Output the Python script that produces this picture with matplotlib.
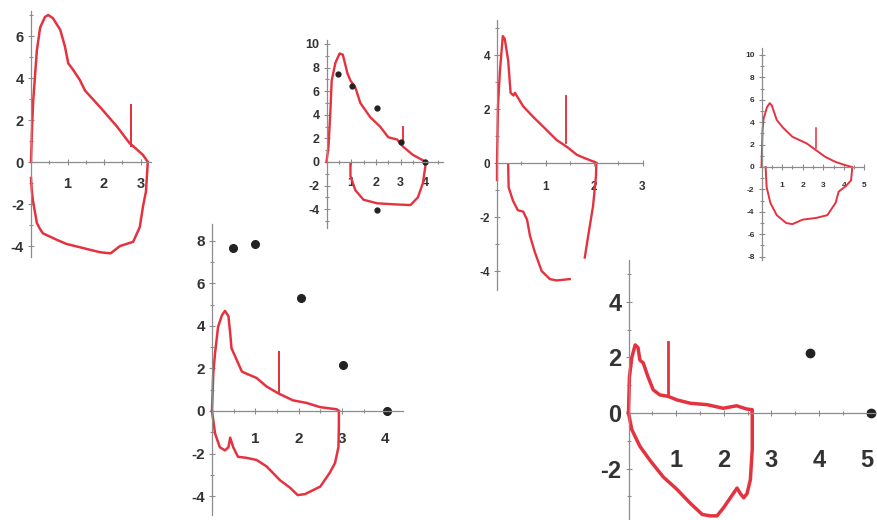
import matplotlib.pyplot as plt
from matplotlib.ticker import MultipleLocator

plt.rcParams['axes.unicode_minus'] = False

# Flow-volume loops: volume (L) on x, flow (L/s) on y.
# Positive flow = expiration, negative flow = inspiration.

# Loop 1
p1_exp_vol = [0, 0.03, 0.06, 0.16, 0.25, 0.38, 0.47, 0.6, 0.8, 0.93, 1.02, 1.15, 1.34, 1.48, 1.9, 2.35, 2.7, 2.9, 3.07, 3.2]
p1_exp_flow = [0, 1.7, 2.9, 5.3, 6.4, 6.9, 7.0, 6.85, 6.3, 5.5, 4.7, 4.4, 3.9, 3.4, 2.6, 1.7, 0.9, 0.6, 0.33, 0]
p1_insp_vol = [0, 0.02, 0.05, 0.16, 0.25, 0.33, 0.7, 0.97, 1.43, 1.9, 2.18, 2.44, 2.8, 2.98, 3.07, 3.15, 3.2]
p1_insp_flow = [-0.76, -1.33, -1.8, -2.9, -3.2, -3.4, -3.7, -3.9, -4.1, -4.3, -4.35, -4.0, -3.8, -3.1, -2.1, -1.4, 0]
p1_marker_vol = 2.74
p1_marker_flow = [0.75, 2.7]

# Loop 2
p2_exp_vol = [0, 0.08, 0.16, 0.21, 0.36, 0.53, 0.66, 0.85, 0.97, 1.17, 1.37, 1.77, 2.17, 2.5, 2.86, 3.1, 3.5, 3.9, 4.0]
p2_exp_flow = [0, 1.3, 4.4, 6.9, 8.4, 9.2, 9.1, 7.5, 6.9, 6.3, 5.0, 3.8, 3.0, 2.1, 1.9, 1.3, 0.6, 0.15, 0]
p2_insp_vol = [0.97, 0.97, 1.17, 1.5, 2.05, 2.85, 3.4, 3.7, 3.9, 4.0, 4.0]
p2_insp_flow = [-0.1, -1.2, -2.4, -3.2, -3.5, -3.6, -3.65, -3.0, -1.8, -0.4, 0]
p2_marker_vol = 3.1
p2_marker_flow = [1.7, 3.0]
p2_pred_vol = [0.48, 1.05, 2.05, 3.0, 4.0, 2.05]
p2_pred_flow = [7.5, 6.4, 4.6, 1.7, 0, -4.1]

# Loop 3
p3_exp_vol = [0, 0, 0.02, 0.06, 0.12, 0.16, 0.23, 0.28, 0.34, 0.37, 0.54, 0.75, 0.95, 1.23, 1.44, 1.65, 1.85, 2.02, 2.05]
p3_exp_flow = [-0.63, 0, 2.1, 3.4, 4.7, 4.6, 3.8, 2.6, 2.5, 2.6, 2.1, 1.7, 1.35, 0.85, 0.6, 0.3, 0.15, 0.03, 0]
p3_insp_vol = [0.23, 0.24, 0.33, 0.43, 0.54, 0.62, 0.68, 0.78, 0.92, 1.09, 1.23, 1.5]
p3_insp_flow = [-0.07, -0.9, -1.4, -1.75, -1.8, -2.1, -2.7, -3.3, -4.0, -4.3, -4.35, -4.3]
p3_insp_end_vol = [1.81, 1.88, 1.98, 2.04, 2.05]
p3_insp_end_flow = [-3.5, -2.7, -1.6, -0.5, 0]
p3_marker_vol = 1.42
p3_marker_flow = [0.75, 2.5]

# Loop 4
p4_exp_vol = [0, 0.05, 0.1, 0.27, 0.4, 0.5, 0.74, 1.05, 1.5, 2.2, 2.65, 3.1, 3.6, 4.1, 4.4]
p4_exp_flow = [0, 3.3, 4.3, 5.35, 5.7, 5.5, 4.2, 3.5, 2.7, 2.1, 1.5, 0.9, 0.45, 0.15, 0]
p4_insp_vol = [0.2, 0.25, 0.43, 0.74, 1.2, 1.5, 2.0, 2.65, 3.2, 3.6, 3.75, 4.1, 4.35, 4.4, 4.4]
p4_insp_flow = [0, -1.8, -3.2, -4.3, -5.0, -5.1, -4.7, -4.55, -4.3, -3.2, -2.2, -1.7, -1.2, -0.3, 0]
p4_marker_vol = 2.67
p4_marker_flow = [1.7, 3.5]

# Loop 5
p5_exp_vol = [0, 0.03, 0.07, 0.14, 0.23, 0.3, 0.38, 0.42, 0.45, 0.57, 0.69, 0.8, 1.03, 1.26, 1.53, 1.87, 2.18, 2.5, 2.88, 2.93]
p5_exp_flow = [0, 1.8, 2.7, 3.95, 4.5, 4.7, 4.45, 3.65, 2.95, 2.4, 1.85, 1.75, 1.55, 1.15, 0.83, 0.5, 0.38, 0.18, 0.08, 0]
p5_insp_vol = [0, 0.07, 0.18, 0.3, 0.38, 0.42, 0.49, 0.6, 0.8, 1.03, 1.26, 1.57, 1.8, 1.98, 2.15, 2.5, 2.72, 2.84, 2.92, 2.93, 2.93]
p5_insp_flow = [0, -1.05, -1.7, -1.85, -1.7, -1.25, -1.7, -2.15, -2.2, -2.3, -2.6, -3.25, -3.6, -3.95, -3.9, -3.55, -2.9, -2.45, -1.7, -0.75, 0]
p5_marker_vol = 1.55
p5_marker_flow = [0.83, 2.75]
p5_pred_vol = [0.49, 1.0, 2.05, 3.03, 4.05]
p5_pred_flow = [7.65, 7.85, 5.3, 2.15, 0]

# Loop 6
p6_exp_vol = [0, 0.02, 0.07, 0.14, 0.2, 0.24, 0.31, 0.41, 0.52, 0.66, 0.83, 1.02, 1.3, 1.65, 1.99, 2.27, 2.49, 2.6, 2.6]
p6_exp_flow = [0, 1.3, 2.0, 2.45, 2.35, 1.9, 1.8, 1.3, 0.83, 0.65, 0.6, 0.47, 0.35, 0.3, 0.17, 0.26, 0.14, 0.12, 0]
p6_insp_vol = [0, 0.07, 0.24, 0.45, 0.73, 1.02, 1.3, 1.55, 1.72, 1.86, 2.0, 2.14, 2.28, 2.35, 2.42, 2.49, 2.56, 2.6, 2.6]
p6_insp_flow = [0, -0.6, -1.2, -1.7, -2.3, -2.75, -3.25, -3.65, -3.7, -3.7, -3.4, -3.05, -2.7, -2.9, -3.05, -2.9, -2.4, -1.3, 0]
p6_marker_vol = 0.83
p6_marker_flow = [0.6, 2.55]
p6_pred_vol = [3.82, 5.1]
p6_pred_flow = [2.15, 0]

RED = '#e5323f'
AXIS = '#8c8c8c'
TEXT = '#333333'
W, H = 877, 520

fig = plt.figure(figsize=(W / 100, H / 100), dpi=100)
fig.patch.set_facecolor('white')


def loop_axes(origin, scale, xlim, ylim, xticks, yticks, size, xpad):
    # origin in pixels (from top-left), scale in pixels per unit
    ox, oy = origin
    sx, sy = scale
    left = (ox + xlim[0] * sx) / W
    bottom = 1 - (oy - ylim[0] * sy) / H
    ax = fig.add_axes([left, bottom, (xlim[1] - xlim[0]) * sx / W, (ylim[1] - ylim[0]) * sy / H])
    ax.set_xlim(*xlim)
    ax.set_ylim(*ylim)
    ax.patch.set_alpha(0)
    for s in ['top', 'right']:
        ax.spines[s].set_visible(False)
    ax.spines['left'].set_position(('data', 0))
    ax.spines['bottom'].set_position(('data', 0))
    for s in ['left', 'bottom']:
        ax.spines[s].set_color(AXIS)
        ax.spines[s].set_linewidth(0.9)
    ax.set_xticks(xticks)
    ax.set_yticks(yticks)
    ax.xaxis.set_minor_locator(MultipleLocator(0.5))
    ax.yaxis.set_minor_locator(MultipleLocator(1))
    ax.tick_params(which='both', direction='inout', color=AXIS, width=0.8)
    ax.tick_params(which='major', length=4)
    ax.tick_params(which='minor', length=3)
    ax.tick_params(axis='x', pad=xpad, labelsize=size, labelcolor=TEXT)
    ax.tick_params(axis='y', pad=3, labelsize=size, labelcolor=TEXT)
    for lab in ax.get_xticklabels() + ax.get_yticklabels():
        lab.set_fontweight('bold')
        lab.set_fontfamily('Liberation Sans')
    return ax


def draw(ax, lw, exp, insp, marker, pred=None, ms=5):
    ax.plot(*exp, color=RED, lw=lw, clip_on=False, solid_joinstyle='round')
    for seg in insp:
        ax.plot(*seg, color=RED, lw=lw, clip_on=False, solid_joinstyle='round')
    mx, my = marker
    ax.plot([mx, mx], my, color=RED, lw=lw * 0.8, clip_on=False)
    if pred is not None:
        ax.plot(*pred, 'o', color='#222222', ms=ms, clip_on=False)


ax1 = loop_axes((31, 162), (36.5, 21), (0, 3.3), (-4.5, 7.2), [1, 2, 3], [-4, -2, 0, 2, 4, 6], 10.5, 9)
draw(ax1, 1.8, (p1_exp_vol, p1_exp_flow), [(p1_insp_vol, p1_insp_flow)], (p1_marker_vol, p1_marker_flow))

ax2 = loop_axes((326.5, 162), (24.7, 11.8), (0, 4.7), (-5.6, 10.3), [1, 2, 3, 4], [-4, -2, 0, 2, 4, 6, 8, 10], 9, 9)
draw(ax2, 1.7, (p2_exp_vol, p2_exp_flow), [(p2_insp_vol, p2_insp_flow)], (p2_marker_vol, p2_marker_flow),
     (p2_pred_vol, p2_pred_flow), ms=3.5)

ax3 = loop_axes((497, 163), (48.5, 27), (0, 3.0), (-4.7, 5.3), [1, 2, 3], [-4, -2, 0, 2, 4], 8.5, 11)
draw(ax3, 1.7, (p3_exp_vol, p3_exp_flow),
     [(p3_insp_vol, p3_insp_flow), (p3_insp_end_vol, p3_insp_end_flow)], (p3_marker_vol, p3_marker_flow))

ax4 = loop_axes((761.5, 167), (21, 11.2), (0, 4.9), (-8.3, 10.6), [1, 2, 3, 4, 5], [-8, -6, -4, -2, 0, 2, 4, 6, 8, 10], 6, 9)
draw(ax4, 1.4, (p4_exp_vol, p4_exp_flow), [(p4_insp_vol, p4_insp_flow)], (p4_marker_vol, p4_marker_flow))

ax5 = loop_axes((212, 411), (43.3, 21.3), (0, 4.4), (-4.9, 8.8), [1, 2, 3, 4], [-4, -2, 0, 2, 4, 6, 8], 11, 13)
draw(ax5, 1.8, (p5_exp_vol, p5_exp_flow), [(p5_insp_vol, p5_insp_flow)], (p5_marker_vol, p5_marker_flow),
     (p5_pred_vol, p5_pred_flow), ms=5.5)

ax6 = loop_axes((628.5, 413), (47.6, 27.8), (0, 5.25), (-4.2, 5.5), [1, 2, 3, 4, 5], [-2, 0, 2, 4], 17, 24)
draw(ax6, 2.5, (p6_exp_vol, p6_exp_flow), [(p6_insp_vol, p6_insp_flow)], (p6_marker_vol, p6_marker_flow),
     (p6_pred_vol, p6_pred_flow), ms=6)

fig.savefig('out.png', dpi=100, facecolor='white')
